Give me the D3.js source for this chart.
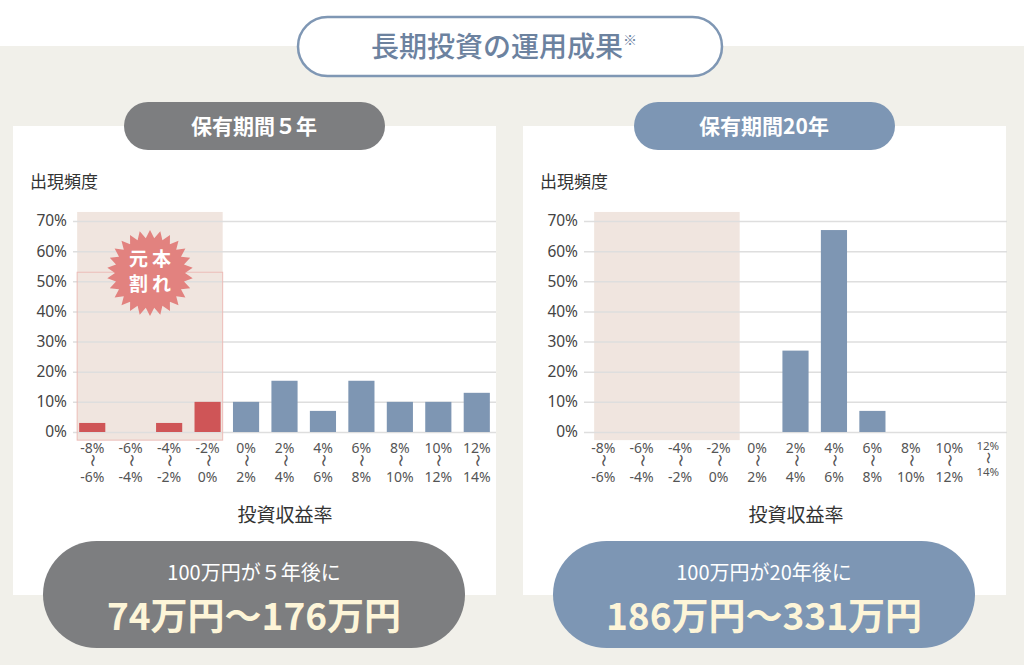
<!DOCTYPE html>
<html>
<head>
<meta charset="utf-8">
<script src="https://cdn.jsdelivr.net/npm/d3@7"></script>
<style>
  body { margin: 0; background: #fff; }
  svg { display: block; font-family: "Noto Sans CJK JP", "Noto Sans", sans-serif; }
</style>
</head>
<body>
<svg id="chart" width="1024" height="665"></svg>
<script>
// data
var binLow  = ['-8%','-6%','-4%','-2%','0%','2%','4%','6%','8%','10%','12%'];
var binHigh = ['-6%','-4%','-2%','0%','2%','4%','6%','8%','10%','12%','14%'];
var freq5  = [3, 0, 3, 10, 10, 17, 7, 17, 10, 10, 13];
var freq20 = [0, 0, 0, 0, 0, 27, 67, 7, 0, 0, 0];
var yTicks = [0, 10, 20, 30, 40, 50, 60, 70];
var lossBins = 4;

var svg = d3.select('#chart');

// background
svg.append('rect')
  .attr('x', 0).attr('y', 46)
  .attr('width', 1024).attr('height', 619)
  .attr('fill', '#f1f0ea');

// title
svg.append('rect')
  .attr('x', 298).attr('y', 17)
  .attr('width', 424).attr('height', 59)
  .attr('rx', 29.5)
  .attr('fill', '#fff')
  .attr('stroke', '#7f97b4')
  .attr('stroke-width', 2.5);

var title = svg.append('text')
  .attr('x', 504).attr('y', 57)
  .attr('text-anchor', 'middle')
  .attr('font-size', 28)
  .attr('font-weight', 500)
  .attr('fill', '#6c829f');
title.append('tspan').text('長期投資の運用成果');
title.append('tspan').attr('font-size', 14).attr('dy', -12).text('※');

function drawPanel(cfg) {
  var g = svg.append('g');

  // card
  g.append('rect')
    .attr('x', cfg.cardX).attr('y', 126)
    .attr('width', 483).attr('height', 469)
    .attr('fill', '#fff');

  // holding period pill
  g.append('rect')
    .attr('x', cfg.cardX + 111).attr('y', 102)
    .attr('width', 261).attr('height', 48)
    .attr('rx', 24)
    .attr('fill', cfg.color);
  g.append('text')
    .attr('x', cfg.cardX + 241).attr('y', 134)
    .attr('text-anchor', 'middle')
    .attr('font-size', 21)
    .attr('font-weight', 700)
    .attr('fill', '#fff')
    .text(cfg.period);

  var x = d3.scaleBand()
    .domain(binLow)
    .range([cfg.x0, cfg.x0 + 423])
    .paddingInner(0.32)
    .paddingOuter(0.16);

  var y = d3.scaleLinear()
    .domain([0, 70])
    .range([432, 221]);

  var shadeX = x(binLow[0]) + cfg.shade[0];
  var shadeW = x(binLow[lossBins - 1]) + x.bandwidth() + cfg.shade[1] - shadeX;

  // loss zone shading
  g.append('rect')
    .attr('x', shadeX)
    .attr('y', y(73))
    .attr('width', shadeW)
    .attr('height', y(-2.7) - y(73))
    .attr('fill', '#f0e5df');

  // y axis + grid
  var yAxis = g.append('g')
    .attr('transform', 'translate(' + cfg.x0 + ',0)')
    .call(d3.axisLeft(y).tickValues(yTicks).tickSize(-423).tickPadding(6).tickFormat(function(d){ return d + '%'; }));
  yAxis.select('.domain').remove();
  yAxis.selectAll('line').attr('stroke', '#dedede').attr('stroke-width', 1.5);
  yAxis.selectAll('text')
    .attr('font-size', 15.5)
    .attr('fill', '#444')
    .attr('font-family', '"Noto Sans", sans-serif');

  if (cfg.burst) {
    g.append('rect')
      .attr('x', shadeX)
      .attr('y', y(53))
      .attr('width', shadeW)
      .attr('height', y(-2.7) - y(53))
      .attr('fill', 'none')
      .attr('stroke', '#ecbcb8')
      .attr('stroke-width', 1);
  }

  // bars
  g.selectAll('.bar')
    .data(cfg.values)
    .enter()
    .append('rect')
    .attr('x', function(d, i){ return x(binLow[i]); })
    .attr('y', function(d){ return y(d); })
    .attr('width', x.bandwidth())
    .attr('height', function(d){ return y(0) - y(d); })
    .attr('fill', function(d, i){ return i < lossBins ? '#cf5557' : '#7e96b3'; });

  // x tick labels
  var xAxis = g.append('g')
    .attr('transform', 'translate(0,432)')
    .call(d3.axisBottom(x).tickSize(0).tickFormat(''));
  xAxis.select('.domain').remove();
  xAxis.selectAll('.tick').each(function(d, i){
    var t = d3.select(this);
    var small = cfg.smallLast && i === binLow.length - 1;
    var fs = small ? 11.5 : 14;
    t.append('text')
      .attr('y', small ? 18 : 21)
      .attr('text-anchor', 'middle')
      .attr('font-size', fs)
      .attr('fill', '#555')
      .attr('font-family', '"Noto Sans", sans-serif')
      .text(binLow[i]);
    t.append('text')
      .attr('transform', 'translate(-4,' + (small ? 26 : 28) + ') rotate(90)')
      .attr('text-anchor', 'middle')
      .attr('font-size', small ? 12 : 13)
      .attr('fill', '#555')
      .text('〜');
    t.append('text')
      .attr('y', small ? 44 : 50)
      .attr('text-anchor', 'middle')
      .attr('font-size', fs)
      .attr('fill', '#555')
      .attr('font-family', '"Noto Sans", sans-serif')
      .text(binHigh[i]);
  });

  // axis titles
  g.append('text')
    .attr('x', cfg.cardX + 17).attr('y', 188)
    .attr('font-size', 17)
    .attr('fill', '#333')
    .text('出現頻度');
  g.append('text')
    .attr('x', cfg.x0 + 212).attr('y', 522)
    .attr('text-anchor', 'middle')
    .attr('font-size', 19)
    .attr('fill', '#333')
    .text('投資収益率');

  // starburst label
  if (cfg.burst) {
    var cx = 150, cy = 273, pts = [];
    for (var k = 0; k < 52; k++) {
      var r = k % 2 === 0 ? 43 : 35;
      var a = Math.PI * 2 * k / 52 - Math.PI / 2;
      pts.push([cx + r * Math.cos(a), cy + r * Math.sin(a)]);
    }
    g.append('path')
      .attr('d', d3.line()(pts) + 'Z')
      .attr('fill', '#e2827f');
    g.append('text')
      .attr('x', cx + 2).attr('y', cy - 7)
      .attr('text-anchor', 'middle')
      .attr('font-size', 19)
      .attr('font-weight', 700)
      .attr('letter-spacing', 4)
      .attr('fill', '#fff')
      .text('元本');
    g.append('text')
      .attr('x', cx + 2).attr('y', cy + 18)
      .attr('text-anchor', 'middle')
      .attr('font-size', 19)
      .attr('font-weight', 700)
      .attr('letter-spacing', 4)
      .attr('fill', '#fff')
      .text('割れ');
  }

  // result pill
  g.append('rect')
    .attr('x', cfg.cardX + 30).attr('y', 541)
    .attr('width', 422).attr('height', 107)
    .attr('rx', 53.5)
    .attr('fill', cfg.color);
  g.append('text')
    .attr('x', cfg.cardX + 241).attr('y', 580)
    .attr('text-anchor', 'middle')
    .attr('font-size', 20)
    .attr('fill', '#fff')
    .text(cfg.line1);
  g.append('text')
    .attr('x', cfg.cardX + 241).attr('y', 630)
    .attr('text-anchor', 'middle')
    .attr('font-size', 37)
    .attr('font-weight', 700)
    .attr('fill', '#fdf5d8')
    .text(cfg.line2);
}

drawPanel({
  cardX: 13, x0: 73, color: '#7d7e80',
  period: '保有期間５年', values: freq5,
  shade: [-2, 2], burst: true, smallLast: false,
  line1: '100万円が５年後に', line2: '74万円〜176万円'
});

drawPanel({
  cardX: 523, x0: 584, color: '#7d96b4',
  period: '保有期間20年', values: freq20,
  shade: [4, 8], burst: false, smallLast: true,
  line1: '100万円が20年後に', line2: '186万円〜331万円'
});
</script>
</body>
</html>
